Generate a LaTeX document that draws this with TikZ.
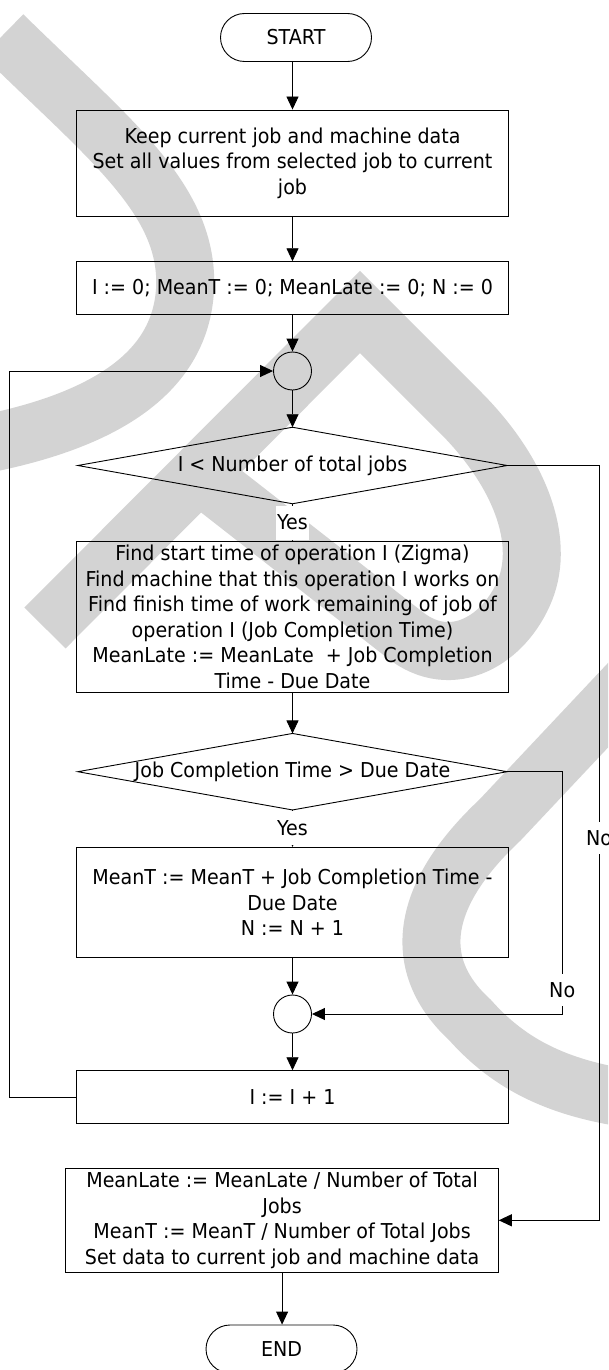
\documentclass[tikz,border=0pt]{standalone}
\usepackage{fontspec}
\setmainfont{DejaVu Sans}[FakeStretch=0.93]
\usetikzlibrary{arrows.meta}
\definecolor{markgray}{RGB}{211,211,211}

\begin{document}
\begin{tikzpicture}[x=1pt,y=-1pt,
  line width=0.9pt,
  font=\fontsize{20.5}{25.5}\selectfont,
  arr/.style={-{Triangle[length=13pt,width=12pt]}},
  proc/.style={draw, rectangle, minimum width=432.3pt, align=center, inner sep=0pt},
  term/.style={draw, rectangle, rounded corners=24pt, minimum width=151pt, minimum height=48pt, inner sep=0pt},
  junc/.style={draw, circle, minimum size=38pt, inner sep=0pt},
  cond/.style={rectangle, minimum width=428.5pt, minimum height=75.6pt, inner sep=0pt},
  lbl/.style={fill=white, inner sep=1pt, minimum height=32pt},
  wm/.style={draw=markgray, line width=58pt, line cap=butt, line join=miter}
]
\useasboundingbox (0,0) rectangle (608,1370);

% background mark strokes
\begin{scope}
  \clip (0,0) rectangle (608,1370);
  \draw[wm] (3,35) .. controls (110,140) and (190,200) .. (185,290)
            .. controls (180,370) and (110,420) .. (-20,445);
  \draw[wm] (45,628) -- (360,312) -- (460,412)
            .. controls (520,472) and (545,540) .. (525,590)
            .. controls (505,640) and (452,672) .. (405,635) -- (190,467);
  \draw[wm] (660,650) -- (500,820)
            .. controls (420,895) and (410,965) .. (470,1020)
            .. controls (510,1065) and (560,1090) .. (640,1100);
\end{scope}

% flowchart nodes
\node[term] (start) at (296,37.5) {START};
\node[proc, minimum height=106pt] (keep) at (292.5,163)
  {Keep current job and machine data\\Set all values from selected job to current\\job};
\node[proc, minimum height=52.6pt] (init) at (292.5,288)
  {I := 0; MeanT := 0; MeanLate := 0; N := 0};
\node[junc] (j1) at (292.5,371) {};
\node[cond] (c1) at (292.5,465.5) {I < Number of total jobs};
\draw (c1.north) -- (c1.east) -- (c1.south) -- (c1.west) -- cycle;
\node[proc, minimum height=150.6pt] (calc) at (292.5,617)
  {Find start time of operation I (Zigma)\\
   Find machine that this operation I works on\\
   Find finish time of work remaining of job of\\
   operation I (Job Completion Time)\\
   MeanLate := MeanLate\ \ + Job Completion\\
   Time - Due Date};
\node[cond] (c2) at (292.5,771.7) {Job Completion Time > Due Date};
\draw (c2.north) -- (c2.east) -- (c2.south) -- (c2.west) -- cycle;
\node[proc, minimum height=110pt] (late) at (292.5,902.3)
  {MeanT := MeanT + Job Completion Time -\\Due Date\\N := N + 1};
\node[junc] (j2) at (292.5,1014) {};
\node[proc, minimum height=52.6pt] (inc) at (292.5,1097) {I := I + 1};
\node[proc, minimum width=432.4pt, minimum height=104pt] (fin) at (282.1,1220.3)
  {MeanLate := MeanLate / Number of Total\\Jobs\\
   MeanT := MeanT / Number of Total Jobs\\
   Set data to current job and machine data};
\node[term] (end) at (281.5,1349) {END};

% connectors
\draw[arr] (start.south -| keep.north) -- (keep.north);
\draw[arr] (keep) -- (init);
\draw[arr] (init) -- (j1);
\draw[arr] (j1) -- (c1.north);
\draw[arr] (c1.south) -- node[lbl, minimum height=34pt] {Yes} (calc.north);
\draw[arr] (calc) -- (c2.north);
\draw[arr] (c2.south) -- node[lbl, minimum height=34pt] {Yes} (late.north);
\draw[arr] (late) -- (j2);
\draw[arr] (j2) -- (inc);
\draw[arr] (fin.south) -- (fin.south |- end.north);

\coordinate (r1) at (599,465.5);
\draw[arr] (c1.east) -- (r1) -- node[lbl, pos=0.4935] {No} (r1 |- fin.east) -- (fin.east);
\coordinate (r2) at (562.2,771.7);
\draw[arr] (c2.east) -- (r2) -- node[lbl, pos=0.9] {No} (r2 |- j2.east) -- (j2.east);
\coordinate (lp) at (9.7,1097);
\draw[arr] (inc.west) -- (lp) -- (lp |- j1.west) -- (j1.west);
\end{tikzpicture}
\end{document}
